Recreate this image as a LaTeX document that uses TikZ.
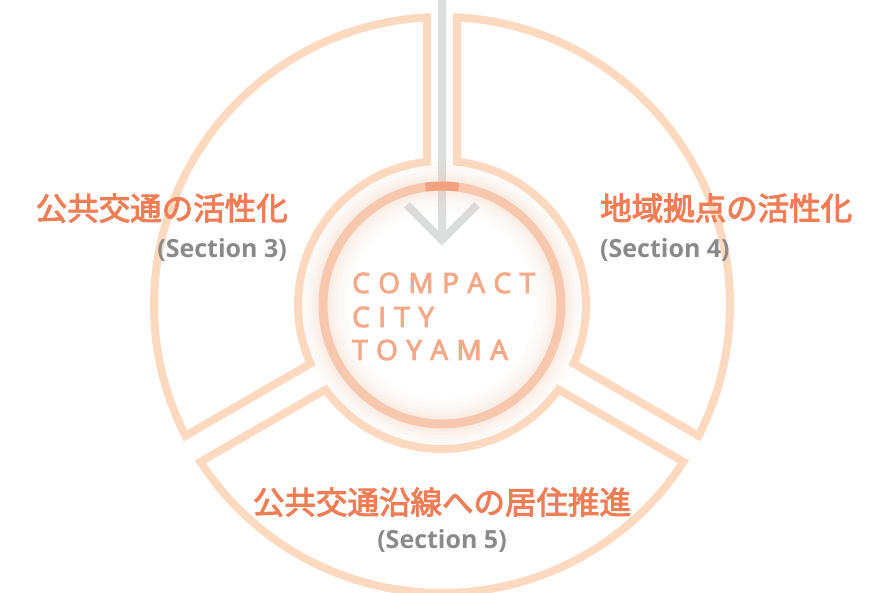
\documentclass[tikz,border=0pt]{standalone}
\usepackage{fontspec}
\setmainfont{Open Sans}
\newfontfamily\cjk{Noto Sans CJK JP}[FakeBold=3]
\newfontfamily\titlefont{Open Sans}[FakeBold=3.5]
\usetikzlibrary{calc}
\definecolor{sectc}{HTML}{FCD9BF}
\definecolor{ringc}{HTML}{F8C8AE}
\definecolor{ringdark}{HTML}{F3A180}
\definecolor{titlec}{HTML}{F4AA89}
\definecolor{labelc}{HTML}{EF7E56}
\definecolor{secc}{HTML}{8A8A8A}
\definecolor{arrowc}{HTML}{DCDDDD}
\tikzset{
  sector/.style={draw=sectc, line width=8pt, line join=miter},
  jlabel/.style={inner sep=0pt, text=labelc, font=\cjk\fontsize{31.5}{31.5}\selectfont},
  slabel/.style={inner sep=0pt, text=secc, font=\bfseries\fontsize{25}{25}\selectfont},
  ctitle/.style={inner sep=0pt, anchor=base west, text=titlec, font=\titlefont\fontsize{28}{28}\selectfont},
  arrowline/.style={draw=arrowc, line width=8pt}
}
\def\lsp{\kern8.4pt}
\begin{document}
\begin{tikzpicture}[x=1pt,y=1pt]
\useasboundingbox (-442,-288) rectangle (451,305);
\fill[white] (-442,-288) rectangle (451,305);
\def\Ro{288}\def\Ri{144}
\pgfmathsetmacro{\do}{asin(15/\Ro)}
\pgfmathsetmacro{\di}{asin(15/\Ri)}
% three sectors
\foreach \a/\b in {90/210, 210/330, -30/90}{
  \draw[sector] (\a+\do:\Ro) arc[start angle=\a+\do, end angle=\b-\do, radius=\Ro]
     -- (\b-\di:\Ri) arc[start angle=\b-\di, end angle=\a+\di, radius=\Ri] -- cycle;
}
% arrow
\coordinate (top) at (0,305);
\coordinate (tip) at (0,65);
\coordinate (armL) at (-35,100);
\coordinate (armR) at (35,100);
\draw[arrowline] (top) -- (tip);
\draw[arrowline, line join=miter] (armL) -- (tip) -- (armR);
% glow around the centre circle
\foreach \w/\o in {50/0.04, 40/0.05, 30/0.06, 22/0.08, 15/0.11}{
  \draw[ringc, line width=\w pt, opacity=\o] (0,0) circle[radius=119];
}
\draw[ringc, line width=9pt] (0,0) circle[radius=119];
\draw[ringdark, line width=9pt] (98:119) arc[start angle=98, end angle=82, radius=119];
% centre title
\node[ctitle] (t1) at (-90,12) {C\lsp O\lsp M\lsp P\lsp A\lsp C\lsp T};
\node[ctitle] (t2) at (-90,-22) {C\lsp I\lsp T\lsp Y};
\node[ctitle] (t3) at (-90,-55) {T\lsp O\lsp Y\lsp A\lsp M\lsp A};
% labels
\node[jlabel, anchor=base east] (l3) at (-154,85) {公共交通の活性化};
\node[slabel, anchor=base east] (s3) at (-155,47) {(Section 3)};
\node[jlabel, anchor=base west] (l4) at (158,85) {地域拠点の活性化};
\node[slabel, anchor=base west] (s4) at (158,47) {(Section 4)};
\node[jlabel, anchor=base] (l5) at (0,-209) {公共交通沿線への居住推進};
\node[slabel, anchor=base] (s5) at (0,-243) {(Section 5)};
\end{tikzpicture}
\end{document}
